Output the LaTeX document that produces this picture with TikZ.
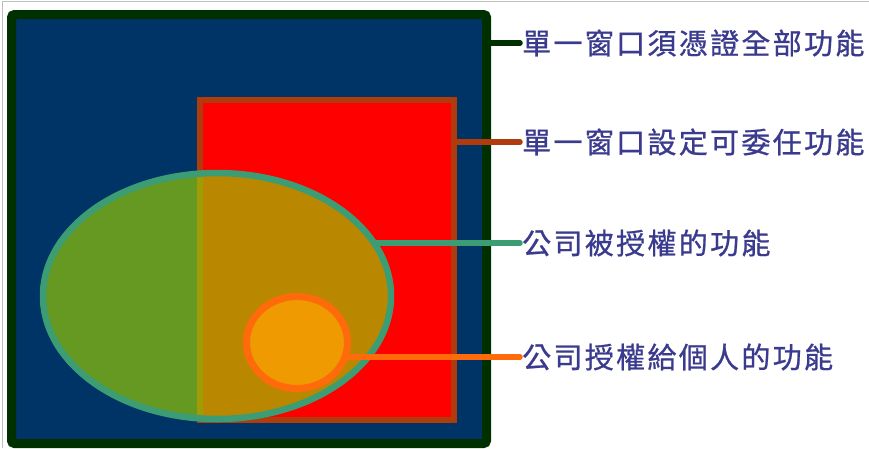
\documentclass[tikz,border=0pt]{standalone}
\usepackage{fontspec}
\newfontfamily\cjk[LetterSpace=8,FakeBold=0.8]{Noto Sans CJK TC}
\usetikzlibrary{shapes.geometric}
\definecolor{navy}{RGB}{0,51,102}
\definecolor{darkgreen}{RGB}{0,48,0}
\definecolor{brownred}{RGB}{176,60,14}
\definecolor{tealline}{RGB}{60,156,116}
\definecolor{lime}{RGB}{153,204,0}
\definecolor{amber}{RGB}{238,154,0}
\definecolor{orangeline}{RGB}{255,106,10}
\definecolor{labelblue}{RGB}{58,58,142}
\definecolor{framegray}{RGB}{190,190,190}
\begin{document}
\begin{tikzpicture}[x=1pt,y=-1pt,
  zone/.style={draw,inner sep=0pt,outer sep=0pt},
  lead/.style={line width=5.5pt,line cap=round,shorten >=2pt},
  tag/.style={anchor=west,inner sep=0pt,text=labelblue,font=\cjk\fontsize{29}{29}\selectfont}]
\useasboundingbox (0,0) rectangle (869,448);
\fill[white] (0,0) rectangle (869,448);
\draw[framegray,line width=1pt] (2.5,448) -- (2.5,1.5) -- (869,1.5);
% nested function areas
\node[zone,draw=darkgreen,fill=navy,line width=9pt,rounded corners=3pt,minimum width=475,minimum height=429] (all) at (249,229) {};
\node[zone,draw=brownred,fill=red,line width=6pt,minimum width=254,minimum height=320] (box) at (327,260) {};
\node[zone,ellipse,draw=tealline,fill=lime,fill opacity=.67,line width=6.5pt,minimum width=348,minimum height=246] (firm) at (217,296) {};
\node[zone,ellipse,draw=orangeline,fill=amber,line width=7pt,minimum width=101,minimum height=92] (staff) at (297,342.5) {};
% labels
\node[tag] (t1) at (522,43) {單一窗口須憑證全部功能};
\node[tag] (t2) at (522,142) {單一窗口設定可委任功能};
\node[tag] (t3) at (522,243) {公司被授權的功能};
\node[tag] (t4) at (522,357) {公司授權給個人的功能};
\draw[lead,darkgreen] (all.east |- t1.west) -- (t1.west);
\draw[lead,brownred] (box.east |- t2.west) -- (t2.west);
\draw[lead,tealline] (firm.19 |- t3.west) -- (t3.west);
\draw[lead,orangeline] (staff.-17 |- t4.west) -- (t4.west);
\end{tikzpicture}
\end{document}
